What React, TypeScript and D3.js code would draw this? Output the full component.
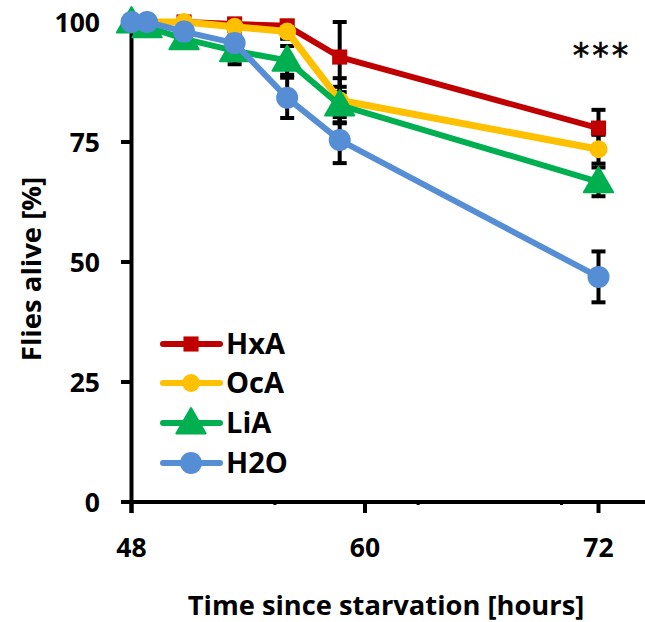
import React from "react";
import * as d3 from "d3";

const times = [48, 48.8, 50.7, 53.3, 56, 58.7, 72];
const hxaValues = [100, 100, 100, 99.6, 99.2, 92.7, 77.9];
const hxaErrors = [0, 0, 0.5, 0.8, 1, 7.3, 3.8];
const ocaValues = [100, 100, 100, 99, 98, 83.7, 73.5];
const ocaErrors = [0, 0, 0.5, 1, 1.5, 4.6, 3];
const liaValues = [100, 99, 96.5, 94, 92, 82.7, 66.7];
const liaErrors = [0, 0.5, 1, 2.8, 3, 3.8, 3];
const h2oValues = [100, 100, 98, 95.6, 84.2, 75.4, 46.9];
const h2oErrors = [0, 0, 1, 1.5, 4.2, 4.8, 5.3];
const seriesNames = ["HxA", "OcA", "LiA", "H2O"];
const seriesColors = ["#C00000", "#FFC000", "#00B050", "#558ED5"];
const seriesShapes = ["square", "circle", "triangle", "circle"];
const xTicks = [48, 60, 72];
const yTicks = [0, 25, 50, 75, 100];

const W = 645;
const H = 622;
const FONT = "'Open Sans', sans-serif";

const x = d3.scaleLinear().domain([48, 72]).range([131.5, 598.5]);
const y = d3.scaleLinear().domain([0, 100]).range([502, 22]);

function Marker({ shape, cx, cy, color, size }: { shape: string; cx: number; cy: number; color: string; size: number }) {
  if (shape === "square") {
    const s = size * 0.72;
    return <rect x={cx - s / 2} y={cy - s / 2} width={s} height={s} fill={color} />;
  }
  if (shape === "triangle") {
    const path = d3.symbol(d3.symbolTriangle, size * size * 0.55)();
    return <path d={path as string} transform={`translate(${cx},${cy + 2})`} fill={color} stroke={color} strokeWidth={2} strokeLinejoin="round" />;
  }
  return <circle cx={cx} cy={cy} r={size / 2} fill={color} />;
}

export default function App() {
  const all = [
    { vals: hxaValues, errs: hxaErrors },
    { vals: ocaValues, errs: ocaErrors },
    { vals: liaValues, errs: liaErrors },
    { vals: h2oValues, errs: h2oErrors },
  ];
  const markerSizes = [21, 18, 26, 22];
  const lineWidths = [6, 7, 6, 6];
  const line = d3
    .line<number>()
    .x((_, i) => x(times[i]))
    .y((d) => y(d));

  return (
    <svg width={W} height={H} style={{ position: "absolute", left: 0, top: 0 }} xmlns="http://www.w3.org/2000/svg">
      <rect width={W} height={H} fill="white" />
      {/* axes */}
      <line x1={122} x2={W} y1={y(0)} y2={y(0)} stroke="black" strokeWidth={4} />
      <line x1={x(48)} x2={x(48)} y1={y(100)} y2={y(0) + 11} stroke="black" strokeWidth={4} />
      {yTicks.map((t) => (
        <g key={"yt" + t}>
          <line x1={121} x2={x(48)} y1={y(t)} y2={y(t)} stroke="black" strokeWidth={4} />
          <text x={100} y={y(t)} dy="0.36em" textAnchor="end" fontFamily={FONT} fontWeight={700} fontSize={26.5}>
            {t}
          </text>
        </g>
      ))}
      {xTicks.map((t) => (
        <g key={"xt" + t}>
          <line x1={x(t)} x2={x(t)} y1={y(0)} y2={y(0) + 11} stroke="black" strokeWidth={4} />
          <text x={x(t)} y={557} textAnchor="middle" fontFamily={FONT} fontWeight={700} fontSize={26.5}>
            {t}
          </text>
        </g>
      ))}
      {[55.37, 62.73, 70.1].map((t) => (
        <line key={"mt" + t} x1={x(t)} x2={x(t)} y1={y(0)} y2={y(0) + 3} stroke="black" strokeWidth={3} />
      ))}
      <text
        transform={`translate(41,269) rotate(-90)`}
        textAnchor="middle"
        fontFamily={FONT}
        fontWeight={700}
        fontSize={27.5}
      >
        Flies alive [%]
      </text>
      <text x={386} y={615} textAnchor="middle" fontFamily={FONT} fontWeight={700} fontSize={27.3}>
        Time since starvation [hours]
      </text>

      {/* error bars */}
      {all.map((s, si) =>
        s.vals.map((v, i) =>
          s.errs[i] > 0 ? (
            <g key={`e${si}-${i}`} stroke="black" strokeWidth={4}>
              <line x1={x(times[i])} x2={x(times[i])} y1={y(v + s.errs[i])} y2={y(v - s.errs[i])} />
              <line x1={x(times[i]) - 7} x2={x(times[i]) + 7} y1={y(v + s.errs[i])} y2={y(v + s.errs[i])} />
              <line x1={x(times[i]) - 7} x2={x(times[i]) + 7} y1={y(v - s.errs[i])} y2={y(v - s.errs[i])} />
            </g>
          ) : null
        )
      )}

      {/* series */}
      {all.map((s, si) => (
        <g key={"s" + si}>
          <path d={line(s.vals) as string} fill="none" stroke={seriesColors[si]} strokeWidth={lineWidths[si]} strokeLinejoin="round" />
          {s.vals.map((v, i) => (
            <Marker key={i} shape={seriesShapes[si]} cx={x(times[i])} cy={y(v)} color={seriesColors[si]} size={markerSizes[si]} />
          ))}
        </g>
      ))}

      <text x={602} y={67} textAnchor="middle" fontFamily="'DejaVu Sans', sans-serif" fontSize={33} letterSpacing={3} stroke="black" strokeWidth={0.6}>
        ***
      </text>

      {/* legend */}
      {seriesNames.map((n, i) => {
        const ly = [344, 383, 423, 463][i];
        return (
          <g key={"lg" + n}>
            <line x1={163} x2={220} y1={ly} y2={ly} stroke={seriesColors[i]} strokeWidth={6} strokeLinecap="round" />
            <Marker shape={seriesShapes[i]} cx={191} cy={ly} color={seriesColors[i]} size={markerSizes[i]} />
            <text x={226} y={ly} dy="0.36em" fontFamily={FONT} fontWeight={700} fontSize={29}>
              {n}
            </text>
          </g>
        );
      })}
    </svg>
  );
}
